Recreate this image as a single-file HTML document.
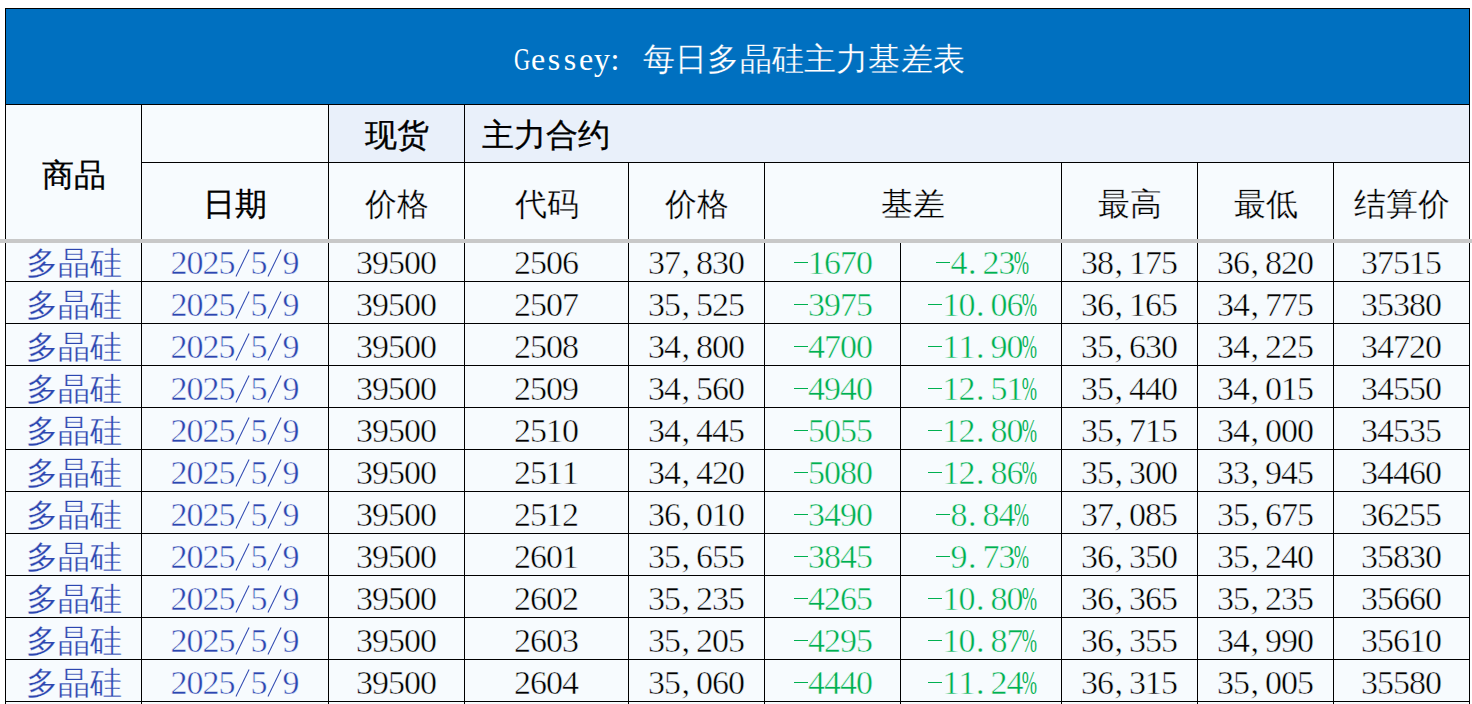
<!DOCTYPE html><html><head><meta charset="utf-8"><style>
*{margin:0;padding:0;box-sizing:border-box}
html,body{width:1472px;height:704px;overflow:hidden;background:#fff}
body{position:relative;font-family:"Liberation Serif",serif;color:#000}
.ab{position:absolute}
.hl{position:absolute;background:#000;height:1px}
.vl{position:absolute;background:#000;width:1px}
.t{position:absolute;text-align:center;white-space:nowrap;font-size:34px;line-height:40px;height:40px}
.cj{font-family:"Liberation Sans",sans-serif;font-size:32px}
.b{font-weight:normal;-webkit-text-stroke:0.3px currentColor}
.th{-webkit-text-stroke:0.5px #F7FBFE}
.thc{-webkit-text-stroke:0.3px #F7FBFE}
.tht .cj{-webkit-text-stroke:0.25px #0070C0}
.blue{color:#2C46B0}
.grn{color:#00B050}
i{font-style:normal;display:inline-flex;justify-content:center;width:16px;text-align:center}
i.cm,i.dt{justify-content:flex-start;padding-left:1px}
i.sl{position:relative;color:transparent}
i.sl::after{content:"";position:absolute;left:7px;top:4.5px;width:1.2px;height:30px;background:#2C46B0;transform:rotate(26deg)}
i.pc{transform:translateX(-1.5px) scaleX(0.54);-webkit-text-stroke:0.15px #F7FBFE}
i.mn{height:2px;position:relative}
i.mn::after{content:"";position:absolute;left:1px;width:14px;height:1.3px;background:currentColor;top:-10px}
.tl i{width:16px;font-size:32px}
.tl i.co{position:relative;left:-3px}
.tl i.G{transform:scaleX(0.7)}
</style></head><body>
<div class="ab" style="left:6px;top:105px;width:1463px;height:600px;background:#F7FBFE"></div>
<div class="ab" style="left:5px;top:8px;width:1465px;height:97px;background:#000"></div>
<div class="ab" style="left:6px;top:9px;width:1463px;height:95px;background:#0070C0"></div>
<div class="ab" style="left:329px;top:105px;width:1140px;height:57px;background:#E9F0FA"></div>
<div class="vl" style="left:5px;top:8px;height:696px"></div>
<div class="vl" style="left:1469px;top:8px;height:696px"></div>
<div class="vl" style="left:141px;top:105px;height:599px"></div>
<div class="vl" style="left:328px;top:105px;height:599px"></div>
<div class="vl" style="left:464px;top:105px;height:599px"></div>
<div class="vl" style="left:628px;top:162px;height:542px"></div>
<div class="vl" style="left:764px;top:162px;height:542px"></div>
<div class="vl" style="left:900px;top:239px;height:465px"></div>
<div class="vl" style="left:1061px;top:162px;height:542px"></div>
<div class="vl" style="left:1197px;top:162px;height:542px"></div>
<div class="vl" style="left:1333px;top:162px;height:542px"></div>
<div class="hl" style="left:141px;top:162px;width:1329px"></div>
<div class="hl" style="left:5px;top:281px;width:1465px"></div>
<div class="hl" style="left:5px;top:323px;width:1465px"></div>
<div class="hl" style="left:5px;top:365px;width:1465px"></div>
<div class="hl" style="left:5px;top:407px;width:1465px"></div>
<div class="hl" style="left:5px;top:449px;width:1465px"></div>
<div class="hl" style="left:5px;top:491px;width:1465px"></div>
<div class="hl" style="left:5px;top:533px;width:1465px"></div>
<div class="hl" style="left:5px;top:575px;width:1465px"></div>
<div class="hl" style="left:5px;top:617px;width:1465px"></div>
<div class="hl" style="left:5px;top:659px;width:1465px"></div>
<div class="hl" style="left:5px;top:701px;width:1465px"></div>
<div class="ab" style="left:0;top:239px;width:1472px;height:4px;background:#C8C8C8"></div>
<div class="t tl tht" style="left:8px;top:39px;width:1463px;color:#fff"><i class="G">G</i><i class="">e</i><i class="">s</i><i class="">s</i><i class="">e</i><i class="">y</i><i class="co">:</i><i></i><span class="cj" style="letter-spacing:0.2px;margin-left:1px">每日多晶硅主力基差表</span></div>
<div class="t cj b" style="left:6px;top:155px;width:135px;">商品</div>
<div class="t cj b" style="left:142px;top:184px;width:186px;">日期</div>
<div class="t cj b" style="left:329px;top:115px;width:135px;">现货</div>
<div class="t cj b" style="left:482px;top:115px;text-align:left">主力合约</div>
<div class="t cj thc" style="left:329px;top:184px;width:135px;">价格</div>
<div class="t cj thc" style="left:465px;top:184px;width:163px;">代码</div>
<div class="t cj thc" style="left:629px;top:184px;width:135px;">价格</div>
<div class="t cj thc" style="left:765px;top:184px;width:296px;">基差</div>
<div class="t cj thc" style="left:1062px;top:184px;width:135px;">最高</div>
<div class="t cj thc" style="left:1198px;top:184px;width:135px;">最低</div>
<div class="t cj thc" style="left:1334px;top:184px;width:135px;">结算价</div>
<div class="t cj blue thc" style="left:6px;top:243px;width:135px;">多晶硅</div>
<div class="t blue th" style="left:142px;top:243px;width:186px;"><i>2</i><i>0</i><i>2</i><i>5</i><i class="sl">/</i><i>5</i><i class="sl">/</i><i>9</i></div>
<div class="t th" style="left:329px;top:243px;width:135px;"><i>3</i><i>9</i><i>5</i><i>0</i><i>0</i></div>
<div class="t th" style="left:465px;top:243px;width:163px;"><i>2</i><i>5</i><i>0</i><i>6</i></div>
<div class="t th" style="left:629px;top:243px;width:135px;"><i>3</i><i>7</i><i class="cm">,</i><i>8</i><i>3</i><i>0</i></div>
<div class="t grn th" style="left:765px;top:243px;width:135px;"><i class="mn"></i><i>1</i><i>6</i><i>7</i><i>0</i></div>
<div class="t grn th" style="left:903px;top:243px;width:160px;"><i class="mn"></i><i>4</i><i class="dt">.</i><i>2</i><i>3</i><i class="pc">%</i></div>
<div class="t th" style="left:1062px;top:243px;width:135px;"><i>3</i><i>8</i><i class="cm">,</i><i>1</i><i>7</i><i>5</i></div>
<div class="t th" style="left:1198px;top:243px;width:135px;"><i>3</i><i>6</i><i class="cm">,</i><i>8</i><i>2</i><i>0</i></div>
<div class="t th" style="left:1334px;top:243px;width:135px;"><i>3</i><i>7</i><i>5</i><i>1</i><i>5</i></div>
<div class="t cj blue thc" style="left:6px;top:285px;width:135px;">多晶硅</div>
<div class="t blue th" style="left:142px;top:285px;width:186px;"><i>2</i><i>0</i><i>2</i><i>5</i><i class="sl">/</i><i>5</i><i class="sl">/</i><i>9</i></div>
<div class="t th" style="left:329px;top:285px;width:135px;"><i>3</i><i>9</i><i>5</i><i>0</i><i>0</i></div>
<div class="t th" style="left:465px;top:285px;width:163px;"><i>2</i><i>5</i><i>0</i><i>7</i></div>
<div class="t th" style="left:629px;top:285px;width:135px;"><i>3</i><i>5</i><i class="cm">,</i><i>5</i><i>2</i><i>5</i></div>
<div class="t grn th" style="left:765px;top:285px;width:135px;"><i class="mn"></i><i>3</i><i>9</i><i>7</i><i>5</i></div>
<div class="t grn th" style="left:903px;top:285px;width:160px;"><i class="mn"></i><i>1</i><i>0</i><i class="dt">.</i><i>0</i><i>6</i><i class="pc">%</i></div>
<div class="t th" style="left:1062px;top:285px;width:135px;"><i>3</i><i>6</i><i class="cm">,</i><i>1</i><i>6</i><i>5</i></div>
<div class="t th" style="left:1198px;top:285px;width:135px;"><i>3</i><i>4</i><i class="cm">,</i><i>7</i><i>7</i><i>5</i></div>
<div class="t th" style="left:1334px;top:285px;width:135px;"><i>3</i><i>5</i><i>3</i><i>8</i><i>0</i></div>
<div class="t cj blue thc" style="left:6px;top:327px;width:135px;">多晶硅</div>
<div class="t blue th" style="left:142px;top:327px;width:186px;"><i>2</i><i>0</i><i>2</i><i>5</i><i class="sl">/</i><i>5</i><i class="sl">/</i><i>9</i></div>
<div class="t th" style="left:329px;top:327px;width:135px;"><i>3</i><i>9</i><i>5</i><i>0</i><i>0</i></div>
<div class="t th" style="left:465px;top:327px;width:163px;"><i>2</i><i>5</i><i>0</i><i>8</i></div>
<div class="t th" style="left:629px;top:327px;width:135px;"><i>3</i><i>4</i><i class="cm">,</i><i>8</i><i>0</i><i>0</i></div>
<div class="t grn th" style="left:765px;top:327px;width:135px;"><i class="mn"></i><i>4</i><i>7</i><i>0</i><i>0</i></div>
<div class="t grn th" style="left:903px;top:327px;width:160px;"><i class="mn"></i><i>1</i><i>1</i><i class="dt">.</i><i>9</i><i>0</i><i class="pc">%</i></div>
<div class="t th" style="left:1062px;top:327px;width:135px;"><i>3</i><i>5</i><i class="cm">,</i><i>6</i><i>3</i><i>0</i></div>
<div class="t th" style="left:1198px;top:327px;width:135px;"><i>3</i><i>4</i><i class="cm">,</i><i>2</i><i>2</i><i>5</i></div>
<div class="t th" style="left:1334px;top:327px;width:135px;"><i>3</i><i>4</i><i>7</i><i>2</i><i>0</i></div>
<div class="t cj blue thc" style="left:6px;top:369px;width:135px;">多晶硅</div>
<div class="t blue th" style="left:142px;top:369px;width:186px;"><i>2</i><i>0</i><i>2</i><i>5</i><i class="sl">/</i><i>5</i><i class="sl">/</i><i>9</i></div>
<div class="t th" style="left:329px;top:369px;width:135px;"><i>3</i><i>9</i><i>5</i><i>0</i><i>0</i></div>
<div class="t th" style="left:465px;top:369px;width:163px;"><i>2</i><i>5</i><i>0</i><i>9</i></div>
<div class="t th" style="left:629px;top:369px;width:135px;"><i>3</i><i>4</i><i class="cm">,</i><i>5</i><i>6</i><i>0</i></div>
<div class="t grn th" style="left:765px;top:369px;width:135px;"><i class="mn"></i><i>4</i><i>9</i><i>4</i><i>0</i></div>
<div class="t grn th" style="left:903px;top:369px;width:160px;"><i class="mn"></i><i>1</i><i>2</i><i class="dt">.</i><i>5</i><i>1</i><i class="pc">%</i></div>
<div class="t th" style="left:1062px;top:369px;width:135px;"><i>3</i><i>5</i><i class="cm">,</i><i>4</i><i>4</i><i>0</i></div>
<div class="t th" style="left:1198px;top:369px;width:135px;"><i>3</i><i>4</i><i class="cm">,</i><i>0</i><i>1</i><i>5</i></div>
<div class="t th" style="left:1334px;top:369px;width:135px;"><i>3</i><i>4</i><i>5</i><i>5</i><i>0</i></div>
<div class="t cj blue thc" style="left:6px;top:411px;width:135px;">多晶硅</div>
<div class="t blue th" style="left:142px;top:411px;width:186px;"><i>2</i><i>0</i><i>2</i><i>5</i><i class="sl">/</i><i>5</i><i class="sl">/</i><i>9</i></div>
<div class="t th" style="left:329px;top:411px;width:135px;"><i>3</i><i>9</i><i>5</i><i>0</i><i>0</i></div>
<div class="t th" style="left:465px;top:411px;width:163px;"><i>2</i><i>5</i><i>1</i><i>0</i></div>
<div class="t th" style="left:629px;top:411px;width:135px;"><i>3</i><i>4</i><i class="cm">,</i><i>4</i><i>4</i><i>5</i></div>
<div class="t grn th" style="left:765px;top:411px;width:135px;"><i class="mn"></i><i>5</i><i>0</i><i>5</i><i>5</i></div>
<div class="t grn th" style="left:903px;top:411px;width:160px;"><i class="mn"></i><i>1</i><i>2</i><i class="dt">.</i><i>8</i><i>0</i><i class="pc">%</i></div>
<div class="t th" style="left:1062px;top:411px;width:135px;"><i>3</i><i>5</i><i class="cm">,</i><i>7</i><i>1</i><i>5</i></div>
<div class="t th" style="left:1198px;top:411px;width:135px;"><i>3</i><i>4</i><i class="cm">,</i><i>0</i><i>0</i><i>0</i></div>
<div class="t th" style="left:1334px;top:411px;width:135px;"><i>3</i><i>4</i><i>5</i><i>3</i><i>5</i></div>
<div class="t cj blue thc" style="left:6px;top:453px;width:135px;">多晶硅</div>
<div class="t blue th" style="left:142px;top:453px;width:186px;"><i>2</i><i>0</i><i>2</i><i>5</i><i class="sl">/</i><i>5</i><i class="sl">/</i><i>9</i></div>
<div class="t th" style="left:329px;top:453px;width:135px;"><i>3</i><i>9</i><i>5</i><i>0</i><i>0</i></div>
<div class="t th" style="left:465px;top:453px;width:163px;"><i>2</i><i>5</i><i>1</i><i>1</i></div>
<div class="t th" style="left:629px;top:453px;width:135px;"><i>3</i><i>4</i><i class="cm">,</i><i>4</i><i>2</i><i>0</i></div>
<div class="t grn th" style="left:765px;top:453px;width:135px;"><i class="mn"></i><i>5</i><i>0</i><i>8</i><i>0</i></div>
<div class="t grn th" style="left:903px;top:453px;width:160px;"><i class="mn"></i><i>1</i><i>2</i><i class="dt">.</i><i>8</i><i>6</i><i class="pc">%</i></div>
<div class="t th" style="left:1062px;top:453px;width:135px;"><i>3</i><i>5</i><i class="cm">,</i><i>3</i><i>0</i><i>0</i></div>
<div class="t th" style="left:1198px;top:453px;width:135px;"><i>3</i><i>3</i><i class="cm">,</i><i>9</i><i>4</i><i>5</i></div>
<div class="t th" style="left:1334px;top:453px;width:135px;"><i>3</i><i>4</i><i>4</i><i>6</i><i>0</i></div>
<div class="t cj blue thc" style="left:6px;top:495px;width:135px;">多晶硅</div>
<div class="t blue th" style="left:142px;top:495px;width:186px;"><i>2</i><i>0</i><i>2</i><i>5</i><i class="sl">/</i><i>5</i><i class="sl">/</i><i>9</i></div>
<div class="t th" style="left:329px;top:495px;width:135px;"><i>3</i><i>9</i><i>5</i><i>0</i><i>0</i></div>
<div class="t th" style="left:465px;top:495px;width:163px;"><i>2</i><i>5</i><i>1</i><i>2</i></div>
<div class="t th" style="left:629px;top:495px;width:135px;"><i>3</i><i>6</i><i class="cm">,</i><i>0</i><i>1</i><i>0</i></div>
<div class="t grn th" style="left:765px;top:495px;width:135px;"><i class="mn"></i><i>3</i><i>4</i><i>9</i><i>0</i></div>
<div class="t grn th" style="left:903px;top:495px;width:160px;"><i class="mn"></i><i>8</i><i class="dt">.</i><i>8</i><i>4</i><i class="pc">%</i></div>
<div class="t th" style="left:1062px;top:495px;width:135px;"><i>3</i><i>7</i><i class="cm">,</i><i>0</i><i>8</i><i>5</i></div>
<div class="t th" style="left:1198px;top:495px;width:135px;"><i>3</i><i>5</i><i class="cm">,</i><i>6</i><i>7</i><i>5</i></div>
<div class="t th" style="left:1334px;top:495px;width:135px;"><i>3</i><i>6</i><i>2</i><i>5</i><i>5</i></div>
<div class="t cj blue thc" style="left:6px;top:537px;width:135px;">多晶硅</div>
<div class="t blue th" style="left:142px;top:537px;width:186px;"><i>2</i><i>0</i><i>2</i><i>5</i><i class="sl">/</i><i>5</i><i class="sl">/</i><i>9</i></div>
<div class="t th" style="left:329px;top:537px;width:135px;"><i>3</i><i>9</i><i>5</i><i>0</i><i>0</i></div>
<div class="t th" style="left:465px;top:537px;width:163px;"><i>2</i><i>6</i><i>0</i><i>1</i></div>
<div class="t th" style="left:629px;top:537px;width:135px;"><i>3</i><i>5</i><i class="cm">,</i><i>6</i><i>5</i><i>5</i></div>
<div class="t grn th" style="left:765px;top:537px;width:135px;"><i class="mn"></i><i>3</i><i>8</i><i>4</i><i>5</i></div>
<div class="t grn th" style="left:903px;top:537px;width:160px;"><i class="mn"></i><i>9</i><i class="dt">.</i><i>7</i><i>3</i><i class="pc">%</i></div>
<div class="t th" style="left:1062px;top:537px;width:135px;"><i>3</i><i>6</i><i class="cm">,</i><i>3</i><i>5</i><i>0</i></div>
<div class="t th" style="left:1198px;top:537px;width:135px;"><i>3</i><i>5</i><i class="cm">,</i><i>2</i><i>4</i><i>0</i></div>
<div class="t th" style="left:1334px;top:537px;width:135px;"><i>3</i><i>5</i><i>8</i><i>3</i><i>0</i></div>
<div class="t cj blue thc" style="left:6px;top:579px;width:135px;">多晶硅</div>
<div class="t blue th" style="left:142px;top:579px;width:186px;"><i>2</i><i>0</i><i>2</i><i>5</i><i class="sl">/</i><i>5</i><i class="sl">/</i><i>9</i></div>
<div class="t th" style="left:329px;top:579px;width:135px;"><i>3</i><i>9</i><i>5</i><i>0</i><i>0</i></div>
<div class="t th" style="left:465px;top:579px;width:163px;"><i>2</i><i>6</i><i>0</i><i>2</i></div>
<div class="t th" style="left:629px;top:579px;width:135px;"><i>3</i><i>5</i><i class="cm">,</i><i>2</i><i>3</i><i>5</i></div>
<div class="t grn th" style="left:765px;top:579px;width:135px;"><i class="mn"></i><i>4</i><i>2</i><i>6</i><i>5</i></div>
<div class="t grn th" style="left:903px;top:579px;width:160px;"><i class="mn"></i><i>1</i><i>0</i><i class="dt">.</i><i>8</i><i>0</i><i class="pc">%</i></div>
<div class="t th" style="left:1062px;top:579px;width:135px;"><i>3</i><i>6</i><i class="cm">,</i><i>3</i><i>6</i><i>5</i></div>
<div class="t th" style="left:1198px;top:579px;width:135px;"><i>3</i><i>5</i><i class="cm">,</i><i>2</i><i>3</i><i>5</i></div>
<div class="t th" style="left:1334px;top:579px;width:135px;"><i>3</i><i>5</i><i>6</i><i>6</i><i>0</i></div>
<div class="t cj blue thc" style="left:6px;top:621px;width:135px;">多晶硅</div>
<div class="t blue th" style="left:142px;top:621px;width:186px;"><i>2</i><i>0</i><i>2</i><i>5</i><i class="sl">/</i><i>5</i><i class="sl">/</i><i>9</i></div>
<div class="t th" style="left:329px;top:621px;width:135px;"><i>3</i><i>9</i><i>5</i><i>0</i><i>0</i></div>
<div class="t th" style="left:465px;top:621px;width:163px;"><i>2</i><i>6</i><i>0</i><i>3</i></div>
<div class="t th" style="left:629px;top:621px;width:135px;"><i>3</i><i>5</i><i class="cm">,</i><i>2</i><i>0</i><i>5</i></div>
<div class="t grn th" style="left:765px;top:621px;width:135px;"><i class="mn"></i><i>4</i><i>2</i><i>9</i><i>5</i></div>
<div class="t grn th" style="left:903px;top:621px;width:160px;"><i class="mn"></i><i>1</i><i>0</i><i class="dt">.</i><i>8</i><i>7</i><i class="pc">%</i></div>
<div class="t th" style="left:1062px;top:621px;width:135px;"><i>3</i><i>6</i><i class="cm">,</i><i>3</i><i>5</i><i>5</i></div>
<div class="t th" style="left:1198px;top:621px;width:135px;"><i>3</i><i>4</i><i class="cm">,</i><i>9</i><i>9</i><i>0</i></div>
<div class="t th" style="left:1334px;top:621px;width:135px;"><i>3</i><i>5</i><i>6</i><i>1</i><i>0</i></div>
<div class="t cj blue thc" style="left:6px;top:663px;width:135px;">多晶硅</div>
<div class="t blue th" style="left:142px;top:663px;width:186px;"><i>2</i><i>0</i><i>2</i><i>5</i><i class="sl">/</i><i>5</i><i class="sl">/</i><i>9</i></div>
<div class="t th" style="left:329px;top:663px;width:135px;"><i>3</i><i>9</i><i>5</i><i>0</i><i>0</i></div>
<div class="t th" style="left:465px;top:663px;width:163px;"><i>2</i><i>6</i><i>0</i><i>4</i></div>
<div class="t th" style="left:629px;top:663px;width:135px;"><i>3</i><i>5</i><i class="cm">,</i><i>0</i><i>6</i><i>0</i></div>
<div class="t grn th" style="left:765px;top:663px;width:135px;"><i class="mn"></i><i>4</i><i>4</i><i>4</i><i>0</i></div>
<div class="t grn th" style="left:903px;top:663px;width:160px;"><i class="mn"></i><i>1</i><i>1</i><i class="dt">.</i><i>2</i><i>4</i><i class="pc">%</i></div>
<div class="t th" style="left:1062px;top:663px;width:135px;"><i>3</i><i>6</i><i class="cm">,</i><i>3</i><i>1</i><i>5</i></div>
<div class="t th" style="left:1198px;top:663px;width:135px;"><i>3</i><i>5</i><i class="cm">,</i><i>0</i><i>0</i><i>5</i></div>
<div class="t th" style="left:1334px;top:663px;width:135px;"><i>3</i><i>5</i><i>5</i><i>8</i><i>0</i></div>
</body></html>
